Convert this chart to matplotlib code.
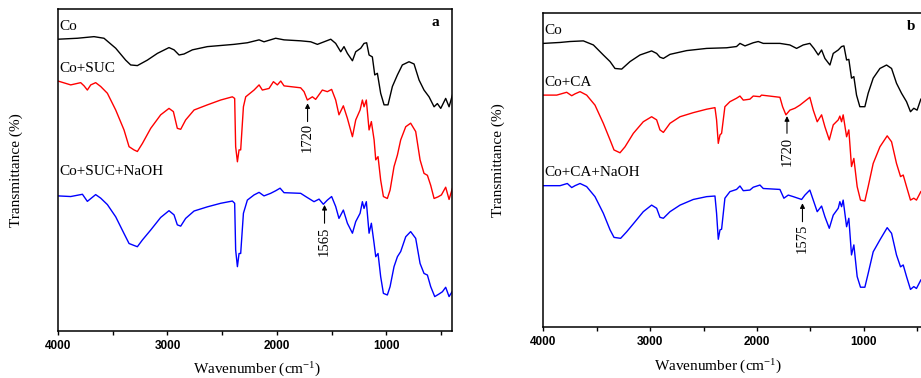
import matplotlib.pyplot as plt
from matplotlib.ticker import MultipleLocator

plt.rcParams["font.family"] = "Liberation Serif"
plt.rcParams["mathtext.fontset"] = "stix"

# panel a - Co
wn_a_co = [4000, 3823, 3671, 3580, 3473, 3382, 3336, 3275, 3184, 3092, 2986, 2940, 2894, 2849,
           2772, 2635, 2392, 2270, 2163, 2118, 2011, 1935, 1783, 1691, 1630, 1569, 1508, 1463,
           1417, 1387, 1356, 1310, 1280, 1234, 1204, 1180, 1158, 1128, 1106, 1082, 1052, 1021,
           985, 945, 899, 854, 793, 747, 701, 656, 610, 564, 534, 503, 458, 427, 396]
t_a_co = [90.7, 91.0, 91.5, 91.0, 87.9, 84.2, 82.7, 82.5, 84.2, 86.3, 88.1, 87.4, 85.8, 86.1,
          87.4, 88.4, 89.1, 89.6, 90.5, 89.9, 91.0, 90.5, 90.2, 89.9, 89.1, 89.9, 90.7, 89.4,
          86.8, 88.4, 86.3, 84.0, 86.8, 87.9, 89.4, 89.6, 85.8, 85.2, 79.6, 80.1, 73.9, 70.3,
          70.3, 76.0, 79.6, 82.7, 83.7, 83.0, 78.0, 74.9, 72.8, 69.7, 70.7, 69.2, 72.3, 69.7, 73.4]

# panel a - Co+SUC
wn_a_suc = [4000, 3884, 3793, 3762, 3732, 3701, 3656, 3610, 3549, 3473, 3397, 3351, 3306, 3275,
            3229, 3153, 3062, 2986, 2946, 2910, 2879, 2834, 2757, 2635, 2514, 2407, 2386, 2377,
            2361, 2346, 2331, 2306, 2285, 2209, 2163, 2133, 2072, 2032, 1996, 1965, 1935, 1783,
            1752, 1722, 1676, 1646, 1585, 1539, 1500, 1463, 1433, 1393, 1356, 1310, 1280, 1240,
            1219, 1204, 1183, 1158, 1137, 1112, 1097, 1076, 1052, 1027, 991, 966, 930, 899, 869,
            823, 778, 732, 692, 656, 625, 595, 564, 528, 497, 458, 427, 396]
t_a_suc = [77.7, 76.5, 77.2, 76.2, 74.9, 76.5, 77.2, 76.0, 73.9, 68.7, 62.5, 57.3, 56.3, 55.8,
           58.3, 63.0, 67.2, 69.2, 68.2, 63.0, 62.7, 65.6, 68.7, 70.3, 71.8, 72.8, 72.3, 57.3,
           52.6, 56.3, 56.3, 69.7, 72.8, 74.9, 76.5, 74.9, 75.4, 77.5, 76.5, 77.7, 76.2, 75.6,
           74.4, 71.8, 72.8, 72.0, 74.9, 74.4, 75.1, 71.8, 67.2, 70.0, 66.1, 60.4, 65.6, 68.7,
           71.8, 69.7, 71.8, 62.5, 65.1, 59.4, 53.2, 54.2, 46.9, 41.8, 41.2, 43.8, 51.1, 54.7, 59.4,
           63.5, 64.6, 62.0, 53.2, 49.0, 48.4, 45.3, 41.2, 41.7, 42.3, 44.7, 40.9, 44.4]

# panel a - Co+SUC+NaOH
wn_a_naoh = [4000, 3884, 3777, 3732, 3656, 3610, 3549, 3473, 3397, 3351, 3306, 3275, 3229, 3153,
             3062, 2986, 2940, 2910, 2879, 2834, 2757, 2635, 2514, 2407, 2386, 2377, 2361, 2346,
             2331, 2306, 2270, 2209, 2163, 2118, 2057, 2011, 1971, 1935, 1783, 1737, 1661, 1615,
             1576, 1539, 1500, 1463, 1433, 1393, 1356, 1310, 1280, 1240, 1219, 1204, 1183, 1158,
             1137, 1112, 1097, 1076, 1052, 1027, 991, 966, 930, 899, 869, 823, 778, 732, 692, 656,
             625, 595, 558, 519, 488, 458, 427, 396]
t_a_naoh = [42.0, 41.8, 42.5, 40.3, 42.4, 41.3, 39.3, 35.5, 30.3, 27.2, 26.6, 26.2, 28.3, 31.4,
            35.3, 37.4, 36.1, 33.0, 32.6, 35.0, 37.3, 38.6, 39.7, 40.4, 39.7, 25.2, 20.0, 24.1,
            24.1, 36.6, 40.7, 42.3, 43.1, 42.0, 42.8, 43.6, 44.4, 43.0, 42.8, 41.8, 40.2, 41.0,
            39.4, 40.7, 41.8, 38.7, 35.0, 37.6, 33.5, 30.4, 34.0, 36.6, 40.2, 38.1, 40.2, 30.4,
            33.5, 27.2, 23.1, 24.1, 16.9, 11.7, 11.2, 13.8, 20.0, 23.1, 24.7, 29.3, 30.9, 28.8, 21.0,
            17.9, 17.4, 13.8, 10.7, 11.5, 12.2, 13.6, 10.7, 12.4]

# panel b - Co
wn_b_co = [4000, 3844, 3751, 3626, 3532, 3439, 3376, 3330, 3267, 3189, 3096, 2987, 2940, 2909,
           2877, 2815, 2659, 2472, 2285, 2192, 2160, 2113, 2036, 1989, 1942, 1786, 1693, 1630,
           1568, 1506, 1468, 1427, 1396, 1365, 1318, 1287, 1240, 1209, 1187, 1162, 1141, 1116,
           1094, 1069, 1038, 991, 960, 913, 850, 788, 741, 695, 648, 601, 564, 533, 502, 467]
t_b_co = [90.4, 90.7, 91.0, 91.2, 89.9, 86.7, 84.6, 82.4, 82.2, 84.6, 86.7, 88.0, 87.2, 86.0,
          85.6, 86.9, 88.1, 88.8, 89.0, 89.4, 90.4, 89.6, 90.6, 91.0, 90.4, 90.4, 89.9, 88.8,
          89.9, 90.4, 88.8, 86.7, 88.3, 85.6, 83.5, 87.2, 88.3, 89.4, 89.6, 85.1, 85.3, 79.3,
          79.8, 73.9, 70.2, 70.2, 74.5, 79.3, 82.4, 83.5, 82.4, 77.7, 74.5, 71.8, 68.6, 69.7, 69.1, 72.6]

# panel b - Co+CA
wn_b_ca = [4000, 3875, 3782, 3735, 3704, 3657, 3595, 3517, 3439, 3376, 3339, 3283, 3236, 3158,
           3065, 2987, 2940, 2909, 2877, 2815, 2721, 2597, 2472, 2394, 2379, 2363, 2347, 2332,
           2301, 2254, 2192, 2160, 2129, 2067, 2036, 1973, 1958, 1786, 1761, 1730, 1693, 1646,
           1599, 1506, 1474, 1437, 1396, 1365, 1324, 1287, 1240, 1225, 1209, 1194, 1162, 1141,
           1116, 1094, 1063, 1032, 991, 960, 913, 850, 782, 741, 695, 657, 632, 601, 564, 533, 508, 467]
t_b_ca = [73.9, 73.9, 74.8, 73.7, 74.3, 75.0, 73.9, 70.7, 64.9, 59.6, 56.4, 55.5, 57.4, 61.7,
          65.4, 67.0, 66.0, 62.8, 62.0, 64.9, 67.0, 68.3, 69.4, 69.9, 66.0, 58.5, 61.2, 61.7,
          70.2, 71.8, 72.9, 73.6, 72.3, 72.6, 73.6, 73.4, 73.9, 73.2, 70.2, 67.6, 69.1, 69.7,
          70.7, 73.2, 69.1, 65.4, 67.6, 63.8, 59.6, 64.4, 66.0, 67.2, 65.4, 67.6, 60.6, 62.8,
          51.1, 53.7, 44.7, 40.4, 40.1, 44.7, 52.1, 57.4, 60.9, 59.0, 52.1, 47.9, 48.4, 44.7, 40.4, 41.0, 40.4, 43.1]

# panel b - Co+CA+NaOH
wn_b_naoh = [4000, 3844, 3776, 3735, 3704, 3657, 3595, 3517, 3439, 3376, 3339, 3277, 3220, 3142,
             3065, 2987, 2940, 2909, 2877, 2815, 2721, 2597, 2472, 2394, 2379, 2363, 2347, 2332,
             2301, 2254, 2192, 2160, 2129, 2067, 2036, 1973, 1942, 1786, 1749, 1708, 1661, 1583,
             1552, 1506, 1474, 1437, 1396, 1365, 1324, 1287, 1240, 1225, 1209, 1194, 1162, 1141,
             1116, 1094, 1063, 1032, 991, 960, 913, 850, 782, 741, 695, 657, 632, 601, 564, 533, 508, 467]
t_b_naoh = [45.0, 45.0, 45.7, 44.4, 45.0, 45.7, 44.7, 41.5, 36.2, 30.9, 28.5, 28.2, 30.3, 33.5,
            36.7, 38.8, 37.8, 34.9, 34.6, 36.7, 38.8, 40.6, 41.5, 41.7, 36.2, 27.9, 30.9, 31.1,
            41.0, 43.1, 43.8, 44.9, 43.4, 43.6, 44.5, 45.2, 44.1, 43.8, 41.0, 42.0, 41.5, 40.6,
            42.0, 43.6, 40.4, 36.7, 38.5, 35.1, 31.4, 35.6, 37.8, 39.9, 38.3, 40.4, 31.9, 34.6,
            22.9, 26.1, 16.0, 12.6, 12.6, 17.0, 23.9, 27.7, 31.6, 29.8, 22.9, 19.1, 19.7, 16.0, 11.9, 12.8, 12.2, 14.9]

names_a = ["Co", "Co+SUC", "Co+SUC+NaOH"]
names_b = ["Co", "Co+CA", "Co+CA+NaOH"]
colours = ["black", "red", "blue"]

fig = plt.figure(figsize=(9.21, 3.78), dpi=100)
ax_a = fig.add_axes([0.063, 0.1243, 0.4278, 0.8511])
ax_b = fig.add_axes([0.590, 0.1357, 0.4176, 0.8291])


def tegn(ax, kurver, navn, label_y, bokstav, piler):
    for (x, y), c in zip(kurver, colours):
        ax.plot(x, y, color=c, lw=1.0)
    for n, ly in zip(navn, label_y):
        ax.text(3990, ly, n, fontsize=11, ha="left", va="bottom")
    ax.text(0.957, 0.958, bokstav, transform=ax.transAxes, fontsize=11,
            fontweight="bold", ha="center", va="center")
    for wn, tip, tail, top in piler:
        ax.annotate("", xy=(wn, tip), xytext=(wn, tail),
                    arrowprops=dict(arrowstyle="-|>", color="black", lw=0.8,
                                    mutation_scale=7, shrinkA=0, shrinkB=0))
        ax.text(wn, top, str(wn), rotation=90, fontsize=10.5, ha="center", va="top")
    ax.set_xlim(4000, 400)
    ax.set_ylim(0, 100)
    ax.set_yticks([])
    ax.xaxis.set_major_locator(MultipleLocator(1000))
    ax.xaxis.set_minor_locator(MultipleLocator(500))
    ax.tick_params(axis="x", which="both", direction="out", length=3, width=1)
    for lab in ax.get_xticklabels():
        lab.set_fontfamily("Liberation Sans")
        lab.set_fontweight("bold")
        lab.set_fontsize(8.5)
    for s in ax.spines.values():
        s.set_linewidth(1.1)
    ax.set_ylabel("Transmittance (%)", fontsize=11)
    ax.set_xlabel(r"Wavenumber (cm$^{\mathregular{-1}}$)", fontsize=11)


tegn(ax_a, [(wn_a_co, t_a_co), (wn_a_suc, t_a_suc), (wn_a_naoh, t_a_naoh)],
     names_a, [92.5, 79.5, 47.5], "a",
     [(1720, 70.8, 65.1, 64.6), (1565, 39.2, 33.5, 32.4)])
tegn(ax_b, [(wn_b_co, t_b_co), (wn_b_ca, t_b_ca), (wn_b_naoh, t_b_naoh)],
     names_b, [92.5, 76.0, 47.0], "b",
     [(1720, 67.2, 61.7, 60.6), (1575, 39.4, 33.5, 33.0)])

ax_a.yaxis.set_label_coords(-0.088, 0.5)
ax_a.xaxis.set_label_coords(0.505, -0.086)
ax_b.yaxis.set_label_coords(-0.1, 0.53)
ax_b.xaxis.set_label_coords(0.455, -0.094)

fig.savefig("out.png", dpi=100)
